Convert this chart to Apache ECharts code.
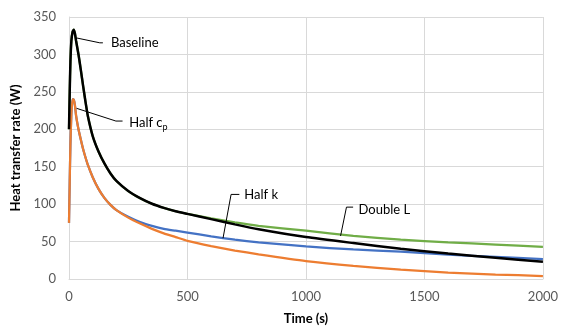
<!DOCTYPE html>
<html><head><meta charset="utf-8">
<script src="https://cdn.jsdelivr.net/npm/echarts@6/dist/echarts.min.js"></script>
<style>html,body{margin:0;padding:0;background:#fff}#c{width:561px;height:331px}</style>
</head><body><div id="c"></div>
<script>
const times = [0, 3, 6, 10, 15, 20, 25, 30, 40, 50, 60, 70, 80, 100, 125, 150, 175, 200, 250, 300, 350, 400, 450, 500, 600, 700, 800, 1000, 1200, 1400, 1600, 1800, 2000];
const baseline = [200, 250, 290, 318, 330, 333, 328, 318, 300, 279, 257, 236, 217, 191, 170, 154, 141, 131, 117.5, 108, 100.5, 95, 90.5, 87, 80, 73, 66.5, 56, 48, 40.5, 34, 28.5, 23];
const halfCp  = [75, 130, 180, 220, 240, 240, 232, 218, 200, 186, 173, 162, 152, 136, 120, 108, 99, 92, 82, 74, 67, 61, 56, 51, 44, 38, 33, 24, 17.5, 12.5, 8.5, 6, 4];
const halfK   = [75, 130, 180, 220, 240, 240, 232, 218, 200, 186, 173, 162, 152, 136, 120, 108, 99, 92, 83, 76, 71, 67, 64.5, 62, 57, 52.5, 49, 43.5, 39.5, 36.5, 32.5, 29.5, 26.5];
const doubleL = [200, 250, 290, 318, 330, 333, 328, 318, 300, 279, 257, 236, 217, 191, 170, 154, 141, 131, 117.5, 108, 100.5, 95, 90.5, 87, 81, 75.5, 71, 64.5, 57.5, 52.5, 49, 46, 43];
const xTicks = [0, 500, 1000, 1500, 2000];
const yTicks = [0, 50, 100, 150, 200, 250, 300, 350];

// annotation leaders (data coordinates) and label anchors
const annotations = [
  {text: 'Baseline', rich: false, pts: [[32, 322], [130, 315.5], [143, 315.5]], at: [177, 315.5]},
  {text: 'Half c', rich: true, pts: [[32, 228], [198, 211], [226, 211]], at: [254, 209]},
  {text: 'Half k', rich: false, pts: [[650, 54.5], [684, 113], [719, 113]], at: [740, 112]},
  {text: 'Double L', rich: false, pts: [[1146, 57.5], [1171, 96], [1199, 96]], at: [1222, 92]}
];

const font = 'Lato, "Liberation Sans", sans-serif';
const pair = arr => times.map((t, i) => [t, arr[i]]);
const chart = echarts.init(document.getElementById('c'), null, {renderer: 'canvas'});
const mk = (name, data, color, w) => ({
  name, type: 'line', data: pair(data), showSymbol: false, symbol: 'none',
  smooth: 0.2,
  lineStyle: {color, width: w}, itemStyle: {color}, animation: false
});
chart.setOption({
  animation: false,
  textStyle: {fontFamily: font},
  grid: {left: 69, right: 12, top: 17, bottom: 52, containLabel: false},
  xAxis: {
    type: 'value', min: xTicks[0], max: xTicks[xTicks.length - 1], interval: 500,
    name: 'Time (s)', nameLocation: 'middle', nameGap: 33,
    nameTextStyle: {fontFamily: font, fontWeight: 'bold', fontSize: 13, color: '#000'},
    axisLine: {show: true, lineStyle: {color: '#d9d9d9', width: 1}},
    axisTick: {show: false},
    axisLabel: {color: '#595959', fontSize: 13, margin: 11, fontFamily: font, formatter: v => String(v)},
    splitLine: {show: true, lineStyle: {color: '#d9d9d9', width: 1}}
  },
  yAxis: {
    type: 'value', min: yTicks[0], max: yTicks[yTicks.length - 1], interval: 50,
    name: 'Heat transfer rate (W)', nameLocation: 'middle', nameGap: 46, nameRotate: 90,
    nameTextStyle: {fontFamily: font, fontWeight: 'bold', fontSize: 13, color: '#000'},
    axisLine: {show: true, lineStyle: {color: '#d9d9d9', width: 1}},
    axisTick: {show: false},
    axisLabel: {color: '#595959', fontSize: 13, margin: 13, fontFamily: font, formatter: v => String(v)},
    splitLine: {show: true, lineStyle: {color: '#d9d9d9', width: 1}}
  },
  series: [
    mk('Double L', doubleL, '#70AD47', 2.25),
    mk('Half k', halfK, '#4472C4', 2.25),
    mk('Half cp', halfCp, '#ED7D31', 2.25),
    mk('Baseline', baseline, '#000000', 2.5)
  ]
});

const g = [];
annotations.forEach(a => {
  const pts = a.pts.map(p => chart.convertToPixel({gridIndex: 0}, p));
  g.push({type: 'polyline', shape: {points: pts}, style: {stroke: '#000', lineWidth: 1, fill: null}, z: 100});
  const at = chart.convertToPixel({gridIndex: 0}, a.at);
  if (a.rich) {
    g.push({type: 'text', x: at[0], y: at[1], z: 100, style: {
      text: '{m|Half c}{s|p}', verticalAlign: 'middle', align: 'left',
      rich: {m: {fontSize: 13, fontFamily: font, fill: '#000'}, s: {fontSize: 9, fontFamily: font, fill: '#000', padding: [9, 0, 0, 0]}}
    }});
  } else {
    g.push({type: 'text', x: at[0], y: at[1], z: 100, style: {text: a.text, fontSize: 13, fontFamily: font, fill: '#000', verticalAlign: 'middle', align: 'left'}});
  }
});
chart.setOption({graphic: g});
</script></body></html>
